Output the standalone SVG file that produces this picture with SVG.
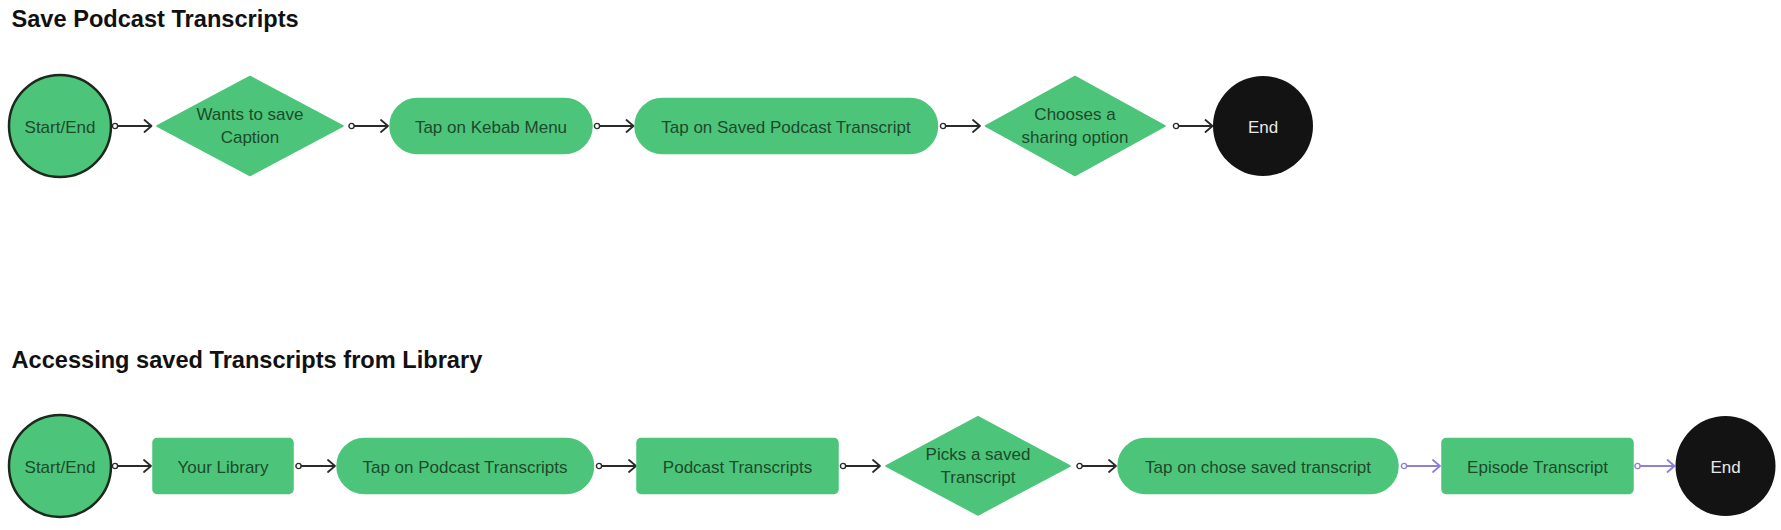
<svg xmlns="http://www.w3.org/2000/svg" width="1781" height="530" viewBox="0 0 1781 530">
<style>
.title{font-family:"Liberation Sans",Arial,sans-serif;font-weight:bold;font-size:23.6px;fill:#111}
.lbl{font-family:"Liberation Sans",Arial,sans-serif;font-size:17px;fill:#1d4a2a;text-anchor:middle}
.lblw{font-family:"Liberation Sans",Arial,sans-serif;font-size:17px;fill:#e8e8e8;text-anchor:middle}
.shape{fill:#4cc57a;stroke:#4cc57a;stroke-width:1.5;stroke-linejoin:round}
.start{fill:#4cc57a;stroke:#1c2a1e;stroke-width:2.5}
.end{fill:#131313}
.con{fill:none;stroke:#2a2a2a;stroke-width:1.8}
.conp{fill:none;stroke:#8c80d8;stroke-width:1.8}
</style>
<defs>
<marker id="dot" markerUnits="userSpaceOnUse" markerWidth="8" markerHeight="8" refX="4" refY="4" orient="auto">
<circle cx="4" cy="4" r="2.6" fill="#fff" stroke="#2a2a2a" stroke-width="1.4"/>
</marker>
<marker id="arr" markerUnits="userSpaceOnUse" markerWidth="12" markerHeight="16" refX="10" refY="8" orient="auto">
<path d="M3,2 L10,8 L3,14" fill="none" stroke="#2a2a2a" stroke-width="1.8" stroke-linecap="round" stroke-linejoin="round"/>
</marker>
<marker id="dotp" markerUnits="userSpaceOnUse" markerWidth="8" markerHeight="8" refX="4" refY="4" orient="auto">
<circle cx="4" cy="4" r="2.6" fill="#fff" stroke="#8c80d8" stroke-width="1.4"/>
</marker>
<marker id="arrp" markerUnits="userSpaceOnUse" markerWidth="12" markerHeight="16" refX="10" refY="8" orient="auto">
<path d="M3,2 L10,8 L3,14" fill="none" stroke="#8c80d8" stroke-width="1.8" stroke-linecap="round" stroke-linejoin="round"/>
</marker>
</defs>
<rect width="1781" height="530" fill="#fff"/>

<text class="title" x="11.5" y="26.7">Save Podcast Transcripts</text>
<text class="title" x="11.5" y="368.3">Accessing saved Transcripts from Library</text>

<g id="connectors">
<path class="con" d="M115,126 H151.5" marker-start="url(#dot)" marker-end="url(#arr)"/>
<path class="con" d="M351.5,126 H388" marker-start="url(#dot)" marker-end="url(#arr)"/>
<path class="con" d="M597,126 H633.5" marker-start="url(#dot)" marker-end="url(#arr)"/>
<path class="con" d="M943,126 H980" marker-start="url(#dot)" marker-end="url(#arr)"/>
<path class="con" d="M1176,126 H1212.5" marker-start="url(#dot)" marker-end="url(#arr)"/>
<path class="con" d="M115,466 H151" marker-start="url(#dot)" marker-end="url(#arr)"/>
<path class="con" d="M298.5,466 H335" marker-start="url(#dot)" marker-end="url(#arr)"/>
<path class="con" d="M599,466 H636" marker-start="url(#dot)" marker-end="url(#arr)"/>
<path class="con" d="M843,466 H880" marker-start="url(#dot)" marker-end="url(#arr)"/>
<path class="con" d="M1079.5,466 H1116" marker-start="url(#dot)" marker-end="url(#arr)"/>
<path class="conp" d="M1404,466 H1440" marker-start="url(#dotp)" marker-end="url(#arrp)"/>
<path class="conp" d="M1637.5,466 H1674.5" marker-start="url(#dotp)" marker-end="url(#arrp)"/>
</g>

<g id="start1">
<circle class="start" cx="60" cy="126" r="51"/>
<text class="lbl" x="60" y="132.5">Start/End</text>
</g>
<g id="wants-save">
<polygon class="shape" points="157,126 250,76.5 343,126 250,175.5"/>
<text class="lbl" x="250" y="120">Wants to save</text>
<text class="lbl" x="250" y="143.3">Caption</text>
</g>
<g id="kebab">
<rect class="shape" x="390" y="98.5" width="202" height="55" rx="27.5"/>
<text class="lbl" x="491" y="132.5">Tap on Kebab Menu</text>
</g>
<g id="saved-transcript">
<rect class="shape" x="635" y="98.5" width="302.5" height="55" rx="27.5"/>
<text class="lbl" x="786" y="132.5">Tap on Saved Podcast Transcript</text>
</g>
<g id="sharing">
<polygon class="shape" points="985.5,126 1075,76.5 1165,126 1075,175.5"/>
<text class="lbl" x="1075" y="120">Chooses a</text>
<text class="lbl" x="1075" y="143.3">sharing option</text>
</g>
<g id="end1">
<circle class="end" cx="1263" cy="126" r="50"/>
<text class="lblw" x="1263" y="132.5">End</text>
</g>

<g id="start2">
<circle class="start" cx="60" cy="466" r="51"/>
<text class="lbl" x="60" y="472.5">Start/End</text>
</g>
<g id="your-library">
<rect class="shape" x="153" y="438.5" width="140" height="55" rx="4"/>
<text class="lbl" x="223" y="472.5">Your Library</text>
</g>
<g id="tap-podcast-transcripts">
<rect class="shape" x="337" y="438.5" width="256.5" height="55" rx="27.5"/>
<text class="lbl" x="465" y="472.5">Tap on Podcast Transcripts</text>
</g>
<g id="podcast-transcripts">
<rect class="shape" x="637" y="438.5" width="201" height="55" rx="4"/>
<text class="lbl" x="737.5" y="472.5">Podcast Transcripts</text>
</g>
<g id="picks-saved">
<polygon class="shape" points="886,466 978,416.7 1070,466 978,515"/>
<text class="lbl" x="978" y="460">Picks a saved</text>
<text class="lbl" x="978" y="483.3">Transcript</text>
</g>
<g id="tap-chose">
<rect class="shape" x="1118" y="438.5" width="280" height="55" rx="27.5"/>
<text class="lbl" x="1258" y="472.5">Tap on chose saved transcript</text>
</g>
<g id="episode-transcript">
<rect class="shape" x="1442" y="438.5" width="191" height="55" rx="4"/>
<text class="lbl" x="1537.5" y="472.5">Episode Transcript</text>
</g>
<g id="end2">
<circle class="end" cx="1725.5" cy="466" r="50"/>
<text class="lblw" x="1725.5" y="472.5">End</text>
</g>
</svg>
